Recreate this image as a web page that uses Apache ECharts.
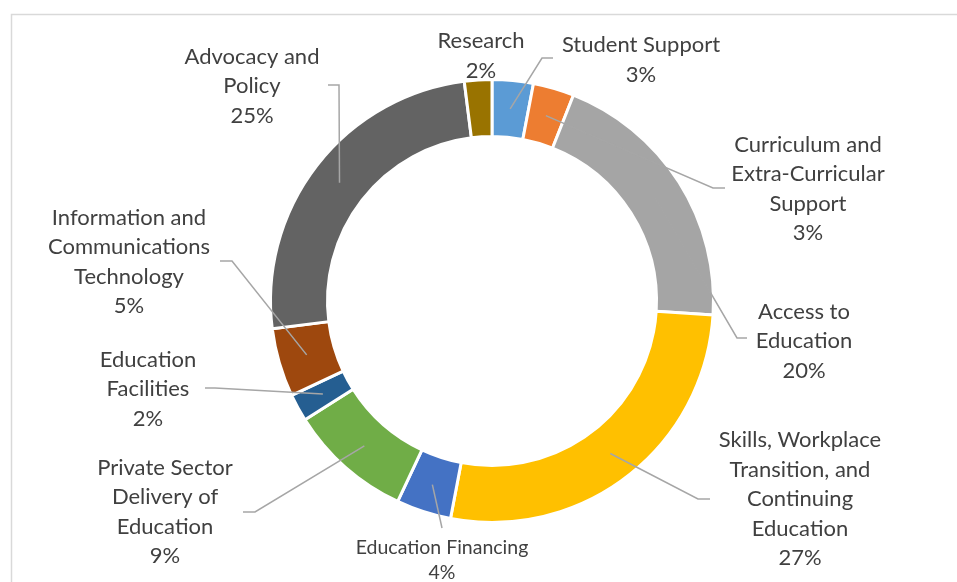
<!DOCTYPE html>
<html>
<head>
<meta charset="utf-8">
<script src="https://cdn.jsdelivr.net/npm/echarts@6/dist/echarts.min.js"></script>
<style>
  html, body { margin: 0; padding: 0; background: #fff; }
  #chart { width: 957px; height: 582px; }
</style>
</head>
<body>
<div id="chart"></div>
<script>
// Program focus areas, clockwise from 12 o'clock
const categories = [
  'Student Support',
  'Curriculum and\nExtra-Curricular\nSupport',
  'Access to\nEducation',
  'Skills, Workplace\nTransition, and\nContinuing\nEducation',
  'Education Financing',
  'Private Sector\nDelivery of\nEducation',
  'Education\nFacilities',
  'Information and\nCommunications\nTechnology',
  'Advocacy and\nPolicy',
  'Research'
];
// Share of the portfolio, in percent
const shares = [3, 3, 20, 27, 4, 9, 2, 5, 25, 2];
const sliceColors = [
  '#5B9BD5', '#ED7D31', '#A5A5A5', '#FFC000', '#4472C4',
  '#70AD47', '#255E91', '#9E480E', '#636363', '#997300'
];

// Ring geometry
const CX = 492, CY = 301;
const R_OUTER = 221.5, R_INNER = 164.5;

// Where each label block sits, and the bend + end of its leader line
const labelPlacement = [
  { at: [641, 60],  bend: [542, 58],  end: [553, 58] },
  { at: [808, 189], bend: [713, 188], end: [725, 188] },
  { at: [804, 341], bend: [737, 338], end: [747, 338] },
  { at: [800, 499], bend: [698, 499], end: [710, 499] },
  { at: [442, 560], bend: [442, 528], end: [442, 528] },
  { at: [165, 512], bend: [255, 512], end: [243, 512] },
  { at: [148, 389], bend: [215, 388], end: [205, 388] },
  { at: [129, 262], bend: [232, 261], end: [220, 261] },
  { at: [252, 86],  bend: [339, 85],  end: [328, 85] },
  { at: [481, 56],  bend: null,       end: null }
];

const FONT = 'Lato';
const TEXT_COLOR = '#404040';

// Coloured ring
const ringData = categories.map(function (name, i) {
  return { name: name, value: shares[i], itemStyle: { color: sliceColors[i] } };
});

// Same values again, drawn invisibly on top so labels and leaders sit above the ring
const labelData = categories.map(function (name, i) {
  const small = name === 'Education Financing';
  return {
    name: name,
    value: shares[i],
    label: small ? { fontSize: 19.5, lineHeight: 25 } : {},
    labelLine: { show: labelPlacement[i].bend !== null }
  };
});

const chart = echarts.init(document.getElementById('chart'), null, { renderer: 'canvas' });

// Leader lines start in the middle of the ring, at the slice's mid angle
function sliceAnchor(dataIndex) {
  const series = chart.getModel().getSeriesByIndex(0);
  const layout = series.getData().getItemLayout(dataIndex);
  const mid = (layout.startAngle + layout.endAngle) / 2;
  const r = (layout.r + layout.r0) / 2;
  return [layout.cx + r * Math.cos(mid), layout.cy + r * Math.sin(mid)];
}

const common = {
  type: 'pie',
  center: [CX, CY],
  radius: [R_INNER, R_OUTER],
  startAngle: 90,
  clockwise: true,
  percentPrecision: 0,
  avoidLabelOverlap: false,
  silent: true,
  emphasis: { disabled: true }
};

chart.setOption({
  animation: false,
  backgroundColor: '#ffffff',
  graphic: [{
    type: 'rect',
    shape: { x: 11.5, y: 14.5, width: 1000, height: 700 },
    style: { fill: null, stroke: '#d9d9d9', lineWidth: 1.5 },
    silent: true,
    z: -10
  }],
  series: [
    Object.assign({}, common, {
      z: 2,
      itemStyle: { borderColor: '#ffffff', borderWidth: 3 },
      label: { show: false },
      labelLine: { show: false },
      data: ringData
    }),
    Object.assign({}, common, {
      z: 5,
      itemStyle: { color: 'rgba(0,0,0,0)', borderWidth: 0 },
      label: {
        show: true,
        position: 'outside',
        formatter: '{b}\n{d}%',
        fontFamily: FONT,
        fontSize: 22,
        lineHeight: 29.5,
        color: TEXT_COLOR,
        align: 'center'
      },
      labelLine: {
        show: true,
        length: 10,
        length2: 10,
        lineStyle: { color: '#a6a6a6', width: 1.5 }
      },
      labelLayout: function (params) {
        const p = labelPlacement[params.dataIndex];
        const out = {
          x: p.at[0],
          y: p.at[1],
          align: 'center',
          verticalAlign: 'middle'
        };
        if (p.bend) {
          out.labelLinePoints = [sliceAnchor(params.dataIndex), p.bend.slice(), p.end.slice()];
        }
        return out;
      },
      data: labelData
    })
  ]
});
</script>
</body>
</html>
